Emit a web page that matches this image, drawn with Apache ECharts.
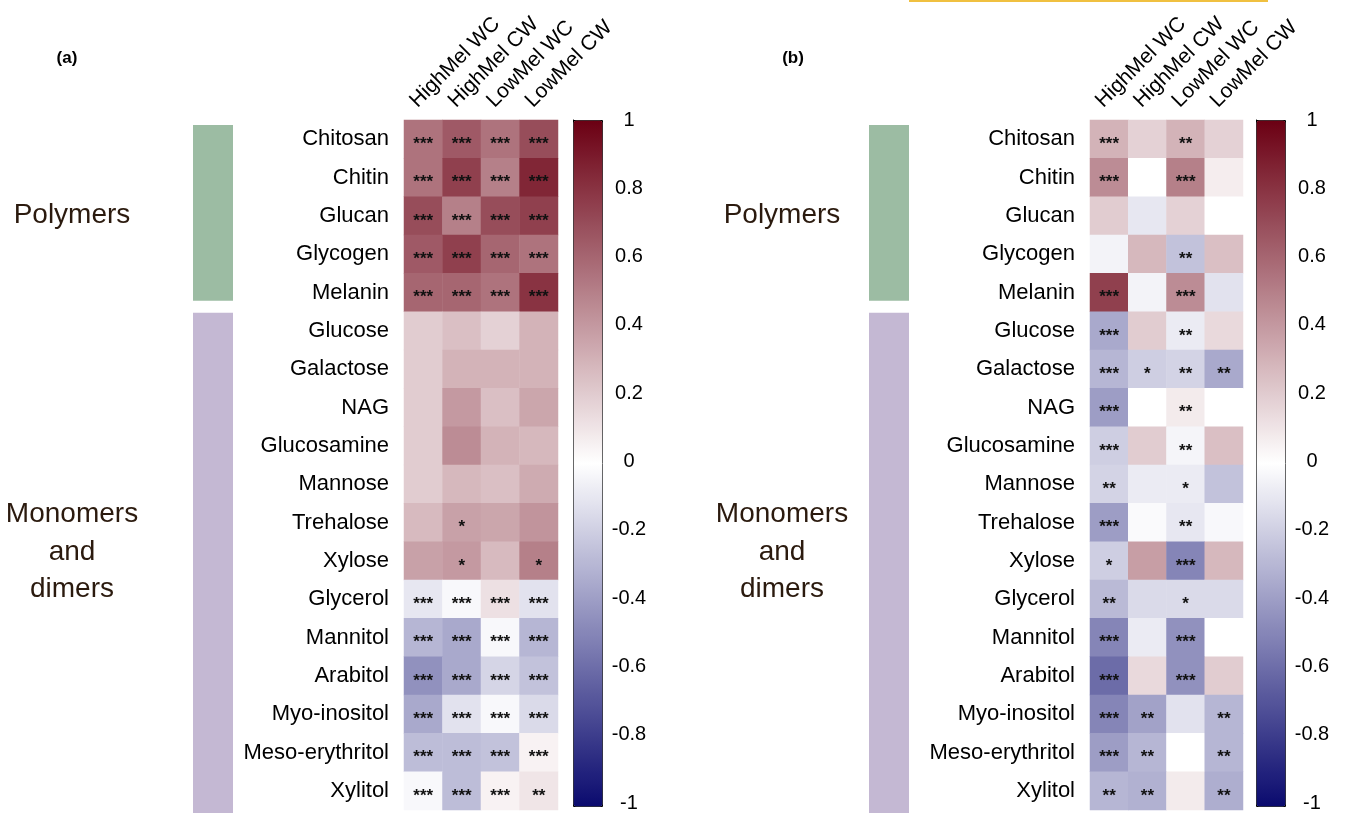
<!DOCTYPE html>
<html>
<head>
<meta charset="utf-8">
<script src="https://cdn.jsdelivr.net/npm/echarts@6/dist/echarts.min.js"></script>
<style>
html,body{margin:0;padding:0;background:#fff;}
#chart{width:1352px;height:813px;}
</style>
</head>
<body>
<div id="chart"></div>
<script>
const rows = ['Chitosan','Chitin','Glucan','Glycogen','Melanin','Glucose','Galactose','NAG','Glucosamine','Mannose','Trehalose','Xylose','Glycerol','Mannitol','Arabitol','Myo-inositol','Meso-erythritol','Xylitol'];
const cols = ['HighMel WC','HighMel CW','LowMel WC','LowMel CW'];
const colorTicks = [-1, -0.8, -0.6, -0.4, -0.2, 0, 0.2, 0.4, 0.6, 0.8, 1];

const valuesA = [
  [0.55, 0.65, 0.55, 0.70],
  [0.55, 0.75, 0.50, 0.85],
  [0.70, 0.50, 0.70, 0.75],
  [0.65, 0.75, 0.60, 0.55],
  [0.60, 0.60, 0.55, 0.80],
  [0.20, 0.25, 0.18, 0.30],
  [0.20, 0.30, 0.30, 0.30],
  [0.20, 0.40, 0.25, 0.35],
  [0.20, 0.45, 0.30, 0.28],
  [0.20, 0.28, 0.25, 0.33],
  [0.27, 0.37, 0.35, 0.42],
  [0.37, 0.40, 0.27, 0.50],
  [-0.10, -0.03, 0.12, -0.12],
  [-0.30, -0.35, -0.03, -0.30],
  [-0.45, -0.35, -0.17, -0.25],
  [-0.35, -0.12, -0.03, -0.15],
  [-0.27, -0.27, -0.25, 0.05],
  [-0.03, -0.27, 0.05, 0.10]
];
const starsA = [
  ['***','***','***','***'],
  ['***','***','***','***'],
  ['***','***','***','***'],
  ['***','***','***','***'],
  ['***','***','***','***'],
  ['','','',''],
  ['','','',''],
  ['','','',''],
  ['','','',''],
  ['','','',''],
  ['','*','',''],
  ['','*','','*'],
  ['***','***','***','***'],
  ['***','***','***','***'],
  ['***','***','***','***'],
  ['***','***','***','***'],
  ['***','***','***','***'],
  ['***','***','***','**']
];
const valuesB = [
  [0.30, 0.18, 0.30, 0.18],
  [0.45, 0.00, 0.50, 0.07],
  [0.20, -0.10, 0.18, 0.00],
  [-0.05, 0.28, -0.25, 0.25],
  [0.75, -0.05, 0.45, -0.12],
  [-0.35, 0.20, -0.08, 0.15],
  [-0.30, -0.20, -0.18, -0.35],
  [-0.40, 0.00, 0.08, 0.00],
  [-0.20, 0.20, -0.04, 0.25],
  [-0.18, -0.08, -0.08, -0.25],
  [-0.40, -0.02, -0.10, -0.03],
  [-0.20, 0.38, -0.50, 0.28],
  [-0.28, -0.15, -0.15, -0.15],
  [-0.50, -0.08, -0.45, 0.00],
  [-0.60, 0.15, -0.45, 0.20],
  [-0.50, -0.38, -0.12, -0.30],
  [-0.40, -0.30, 0.00, -0.30],
  [-0.30, -0.32, 0.08, -0.33]
];
const starsB = [
  ['***','','**',''],
  ['***','','***',''],
  ['','','',''],
  ['','','**',''],
  ['***','','***',''],
  ['***','','**',''],
  ['***','*','**','**'],
  ['***','','**',''],
  ['***','','**',''],
  ['**','','*',''],
  ['***','','**',''],
  ['*','','***',''],
  ['**','','*',''],
  ['***','','***',''],
  ['***','','***',''],
  ['***','**','','**'],
  ['***','**','','**'],
  ['**','**','','**']
];

const FONT = "'Liberation Sans', Arial, sans-serif";
const scaleColors = ['#0a0a6e', '#ffffff', '#6b0013'];

function buildData(vals, stars) {
  const out = [];
  vals.forEach((r, ri) => r.forEach((v, ci) => {
    out.push({ value: [ci, ri, v], stars: stars[ri][ci] });
  }));
  return out;
}

const panels = [
  { left: 404, top: 120, width: 154, height: 690, cbLeft: 573 },
  { left: 1090, top: 120, width: 153, height: 690, cbLeft: 1256 }
];

const grids = [], xAxes = [], yAxes = [], series = [], visualMaps = [];
panels.forEach((p, i) => {
  grids.push({ left: p.left, top: p.top, width: p.width, height: p.height });
  xAxes.push({
    type: 'category', data: cols, gridIndex: i, position: 'top',
    axisLine: { show: false }, axisTick: { show: false }, splitLine: { show: false },
    axisLabel: {
      rotate: -45, interval: 0, fontSize: 21, color: '#000', fontFamily: FONT, margin: 6,
      lineHeight: 28, formatter: (v) => v + '\n '
    }
  });
  yAxes.push({
    type: 'category', data: rows, gridIndex: i, inverse: true,
    axisLine: { show: false }, axisTick: { show: false }, splitLine: { show: false },
    axisLabel: { interval: 0, fontSize: 22, color: '#000', fontFamily: FONT, margin: 15 }
  });
});
// colour-bar tick axes
panels.forEach((p, i) => {
  grids.push({ left: p.cbLeft, top: 120, width: 29, height: 686 });
  xAxes.push({ type: 'value', gridIndex: 2 + i, show: false, min: 0, max: 1 });
  yAxes.push({
    type: 'value', gridIndex: 2 + i, position: 'right', min: colorTicks[0], max: colorTicks[colorTicks.length - 1], interval: 0.2,
    axisLine: { show: true, lineStyle: { color: '#000', width: 1 } },
    axisTick: { show: true, length: 7, lineStyle: { color: '#000', width: 1 } },
    splitLine: { show: false },
    axisLabel: { fontSize: 20, color: '#000', fontFamily: FONT, align: 'center', margin: 27 }
  });
});

[[valuesA, starsA], [valuesB, starsB]].forEach((d, i) => {
  series.push({
    type: 'heatmap', xAxisIndex: i, yAxisIndex: i,
    data: buildData(d[0], d[1]),
    label: {
      show: true, formatter: (pp) => pp.data.stars, color: '#111',
      fontSize: 17, fontWeight: 'bold', fontFamily: FONT, offset: [0, 5]
    },
    itemStyle: { borderWidth: 0 },
    emphasis: { disabled: true }
  });
  visualMaps.push({
    type: 'continuous', seriesIndex: i, dimension: 2, min: -1, max: 1,
    left: panels[i].cbLeft, top: 120, itemWidth: 29, itemHeight: 686,
    padding: 0, borderWidth: 1, borderColor: '#000',
    text: null, calculable: false, hoverLink: false, realtime: false,
    inRange: { color: scaleColors }
  });
});

const chart = echarts.init(document.getElementById('chart'), null, { renderer: 'canvas' });
chart.setOption({
  animation: false,
  backgroundColor: '#fff',
  textStyle: { fontFamily: FONT },
  grid: grids, xAxis: xAxes, yAxis: yAxes, visualMap: visualMaps, series: series
});

// group annotations positioned from the category axis
const graphics = [];
const labelColor = '#2b1a0e';
[{ barX: 193, txtX: 72, tag: '(a)', tagX: 67 }, { barX: 869, txtX: 782, tag: '(b)', tagX: 793 }].forEach((g, i) => {
  const py = (r) => chart.convertToPixel({ xAxisIndex: i, yAxisIndex: i }, [0, r])[1];
  const half = (py(1) - py(0)) / 2;
  const polyTop = py(0) - half + 5;
  const polyBot = py(4) + half - 11;
  const monoTop = py(5) - half + 1;
  const monoBot = py(rows.length - 1) + half + 10;
  graphics.push({ type: 'rect', shape: { x: g.barX, y: polyTop, width: 40, height: polyBot - polyTop }, style: { fill: '#9cbca3' }, silent: true });
  graphics.push({ type: 'rect', shape: { x: g.barX, y: monoTop, width: 40, height: monoBot - monoTop }, style: { fill: '#c4b8d3' }, silent: true });
  graphics.push({ type: 'text', x: g.txtX, y: (polyTop + polyBot) / 2 + 2, style: { text: 'Polymers', fill: labelColor, font: '28px ' + FONT, align: 'center', verticalAlign: 'middle' }, silent: true });
  graphics.push({ type: 'text', x: g.txtX, y: 552, style: { text: 'Monomers\nand\ndimers', fill: labelColor, font: '28px ' + FONT, align: 'center', verticalAlign: 'middle', lineHeight: 37.5 }, silent: true });
  graphics.push({ type: 'text', x: g.tagX, y: 58, style: { text: g.tag, fill: '#000', font: 'bold 17px ' + FONT, align: 'center', verticalAlign: 'middle' }, silent: true });
});
graphics.push({ type: 'line', shape: { x1: 909, y1: 1, x2: 1268, y2: 1 }, style: { stroke: '#f0c040', lineWidth: 2 }, silent: true });
chart.setOption({ graphic: graphics });
</script>
</body>
</html>
